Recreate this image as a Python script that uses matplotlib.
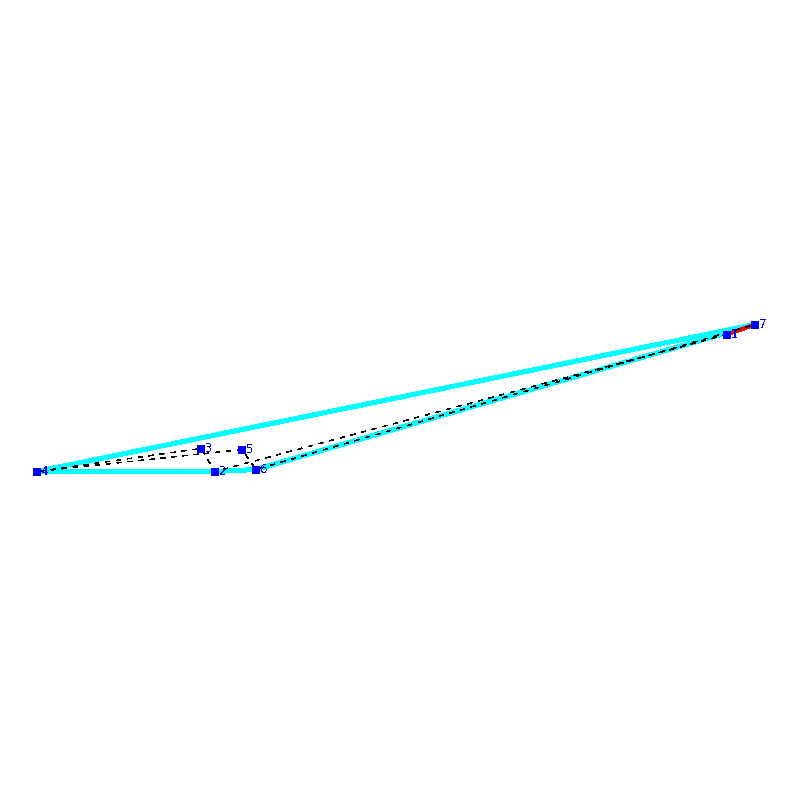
import matplotlib
matplotlib.use('Agg')
import matplotlib.pyplot as plt

# node positions
node_ids = [1, 2, 3, 4, 5, 6, 7]
node_x = [727, 215, 201, 37, 242, 256, 755]
node_y = [334, 471, 448, 471, 449, 469, 324]

hull = [4, 2, 6, 7, 4]
tour = [1, 2, 3, 4, 5, 6, 7]
red_edge = [1, 7]


def path(ids):
    return [node_x[i - 1] for i in ids], [node_y[i - 1] for i in ids]


fig = plt.figure(figsize=(8, 8), dpi=100)
ax = fig.add_axes([0, 0, 1, 1])
ax.set_xlim(0, 800)
ax.set_ylim(799.5, -0.5)
ax.axis('off')

x, y = path(hull)
ax.plot(x, y, color='#00ffff', lw=2.9, antialiased=False, zorder=1)
x, y = path(red_edge)
ax.plot(x, y, color='#ff0000', lw=2.2, antialiased=False, zorder=2)
x, y = path(tour)
ax.plot(x, y, color='black', lw=0.35, dashes=(9, 14), antialiased=False, zorder=3)

ax.plot(node_x, node_y, ls='none', marker='s', ms=5.2, mfc='#0000ff', mec='#0000ff',
        mew=0, antialiased=False, zorder=4)
for n, px, py in zip(node_ids, node_x, node_y):
    ax.annotate(str(n), (px, py), xytext=(3.0, 0), textcoords='offset points',
                color='#0000ff', fontsize=8.5, va='center', ha='left',
                antialiased=False, zorder=5)

fig.savefig('out.png', dpi=100, facecolor='white')
